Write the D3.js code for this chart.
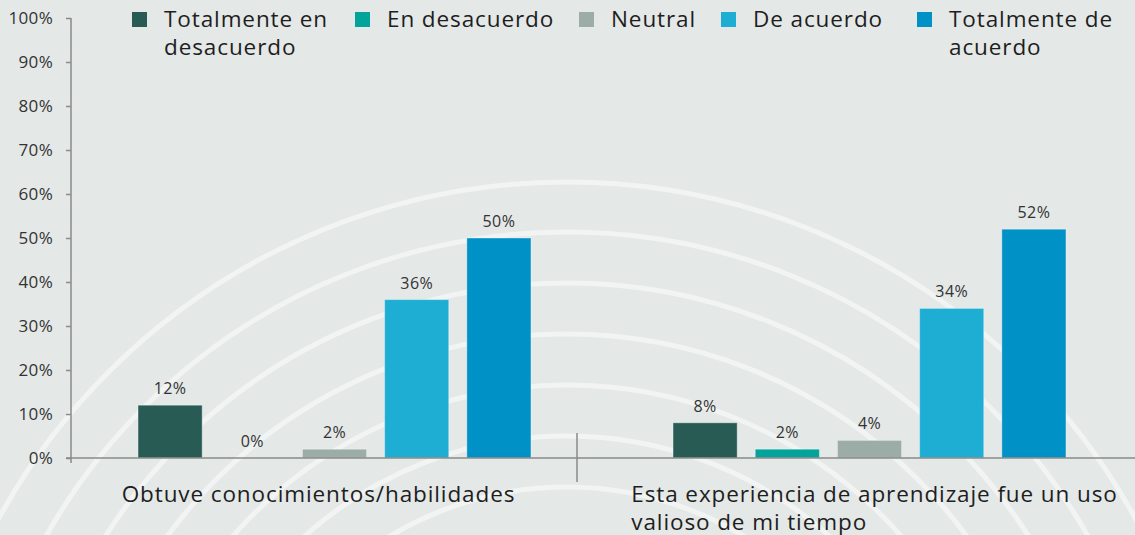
<!DOCTYPE html>
<html>
<head>
<meta charset="utf-8">
<script src="https://cdn.jsdelivr.net/npm/d3@7"></script>
<style>
	body { margin: 0; background: #e4e8e7; }
	svg { display: block; font-family: "Open Sans", "Noto Sans", sans-serif; }
</style>
</head>
<body>
<script>
var categories = ["Obtuve conocimientos/habilidades", "Esta experiencia de aprendizaje fue un uso valioso de mi tiempo"];
var categoryLines = [["Obtuve conocimientos/habilidades"], ["Esta experiencia de aprendizaje fue un uso", "valioso de mi tiempo"]];
var seriesNames = ["Totalmente en desacuerdo", "En desacuerdo", "Neutral", "De acuerdo", "Totalmente de acuerdo"];
var legendLines = [["Totalmente en", "desacuerdo"], ["En desacuerdo"], ["Neutral"], ["De acuerdo"], ["Totalmente de", "acuerdo"]];
var colors = ["#285b54", "#02a39b", "#9cada8", "#1eaed4", "#0092c6"];

var totalmenteDesacuerdo = [12, 8];
var enDesacuerdo = [0, 2];
var neutral = [2, 4];
var deAcuerdo = [36, 34];
var totalmenteAcuerdo = [50, 52];
var seriesValues = [totalmenteDesacuerdo, enDesacuerdo, neutral, deAcuerdo, totalmenteAcuerdo];

var yTicks = [0, 10, 20, 30, 40, 50, 60, 70, 80, 90, 100];

var width = 1135;
var height = 535;

var svg = d3.select("body").append("svg")
	.attr("width", width)
	.attr("height", height);

svg.append("rect")
	.attr("width", width)
	.attr("height", height)
	.attr("fill", "#e4e8e7");

// decorative rings behind the chart
var ringRadii = [343, 394, 445, 496, 547, 598, 648];
svg.append("g")
	.selectAll("circle")
	.data(ringRadii)
	.enter().append("circle")
	.attr("cx", 567)
	.attr("cy", 830)
	.attr("r", function(d) { return d; })
	.attr("fill", "none")
	.attr("stroke", "#f1f4f2")
	.attr("stroke-width", 5);

var x0 = d3.scaleBand()
	.domain(categories)
	.range([67, 1137]);

var x1 = d3.scaleBand()
	.domain(seriesNames)
	.range([62, 473])
	.paddingInner(0.22)
	.paddingOuter(0.11);

var y = d3.scaleLinear()
	.domain([0, 100])
	.range([458, 18]);

var axisX = 71;

var yAxis = svg.append("g")
	.attr("transform", "translate(" + axisX + ",0)")
	.call(d3.axisLeft(y).tickValues(yTicks).tickSize(5).tickPadding(13).tickFormat(function(d) { return d + "%"; }));
yAxis.select(".domain").remove();
yAxis.selectAll(".tick line").attr("stroke", "#8a8a8a").attr("stroke-width", 1.5);
yAxis.selectAll(".tick text")
	.attr("fill", "#333")
	.style("font-size", "17px")
	.style("letter-spacing", "0.3px")
	.style("font-family", "\"Open Sans\", sans-serif");

svg.append("line")
	.attr("x1", axisX).attr("x2", axisX)
	.attr("y1", y(100)).attr("y2", y(0) + 5)
	.attr("stroke", "#8a8a8a")
	.attr("stroke-width", 1.5);

var rows = [];
categories.forEach(function(c, ci) {
	seriesNames.forEach(function(s, si) {
		rows.push({cat: c, series: s, color: colors[si], value: seriesValues[si][ci]});
	});
});

svg.append("g")
	.selectAll("rect")
	.data(rows)
	.enter().append("rect")
	.attr("x", function(d) { return x0(d.cat) + x1(d.series); })
	.attr("y", function(d) { return y(d.value); })
	.attr("width", x1.bandwidth())
	.attr("height", function(d) { return y(0) - y(d.value); })
	.attr("fill", function(d) { return d.color; })
	.attr("stroke", "rgba(255,255,255,0.35)")
	.attr("stroke-width", 1);

svg.append("g")
	.selectAll("text")
	.data(rows)
	.enter().append("text")
	.attr("x", function(d) { return x0(d.cat) + x1(d.series) + x1.bandwidth() / 2; })
	.attr("y", function(d) { return y(d.value) - 11; })
	.attr("text-anchor", "middle")
	.attr("fill", "#333")
	.style("font-size", "16px")
	.style("letter-spacing", "0.4px")
	.text(function(d) { return d.value + "%"; });

// baseline and category separator
svg.append("line")
	.attr("x1", axisX - 5).attr("x2", width)
	.attr("y1", y(0)).attr("y2", y(0))
	.attr("stroke", "#8a8a8a")
	.attr("stroke-width", 1.5);

svg.append("line")
	.attr("x1", 577).attr("x2", 577)
	.attr("y1", y(0) - 25).attr("y2", y(0) + 24)
	.attr("stroke", "#8a8a8a")
	.attr("stroke-width", 1.5);

var labelNudge = [-16, 5];
var catLabels = svg.append("g")
	.selectAll("text")
	.data(categories)
	.enter().append("text")
	.attr("fill", "#1e1e1e")
	.style("font-size", "22.5px")
	.style("letter-spacing", "0.9px");

catLabels.each(function(c, i) {
	var t = d3.select(this);
	categoryLines[i].forEach(function(line, li) {
		t.append("tspan")
			.attr("y", 502 + li * 28)
			.text(line);
	});
	var maxW = 0;
	t.selectAll("tspan").each(function() { maxW = Math.max(maxW, this.getComputedTextLength()); });
	var left = x0(c) + x0.bandwidth() / 2 - maxW / 2 + labelNudge[i];
	t.selectAll("tspan").attr("x", left);
});

// legend
var legendX = [132, 355, 579, 721, 917];
var legend = svg.append("g")
	.selectAll("g")
	.data(seriesNames)
	.enter().append("g")
	.attr("transform", function(d, i) { return "translate(" + legendX[i] + ",0)"; });

legend.append("rect")
	.attr("y", 12)
	.attr("width", 15)
	.attr("height", 15)
	.attr("fill", function(d, i) { return colors[i]; });

legend.append("text")
	.attr("fill", "#1e1e1e")
	.style("font-size", "22.5px")
	.style("letter-spacing", "0.9px")
	.each(function(d, i) {
		var t = d3.select(this);
		legendLines[i].forEach(function(line, li) {
			t.append("tspan")
				.attr("x", 32)
				.attr("y", 27 + li * 28)
				.text(line);
		});
	});
</script>
</body>
</html>
